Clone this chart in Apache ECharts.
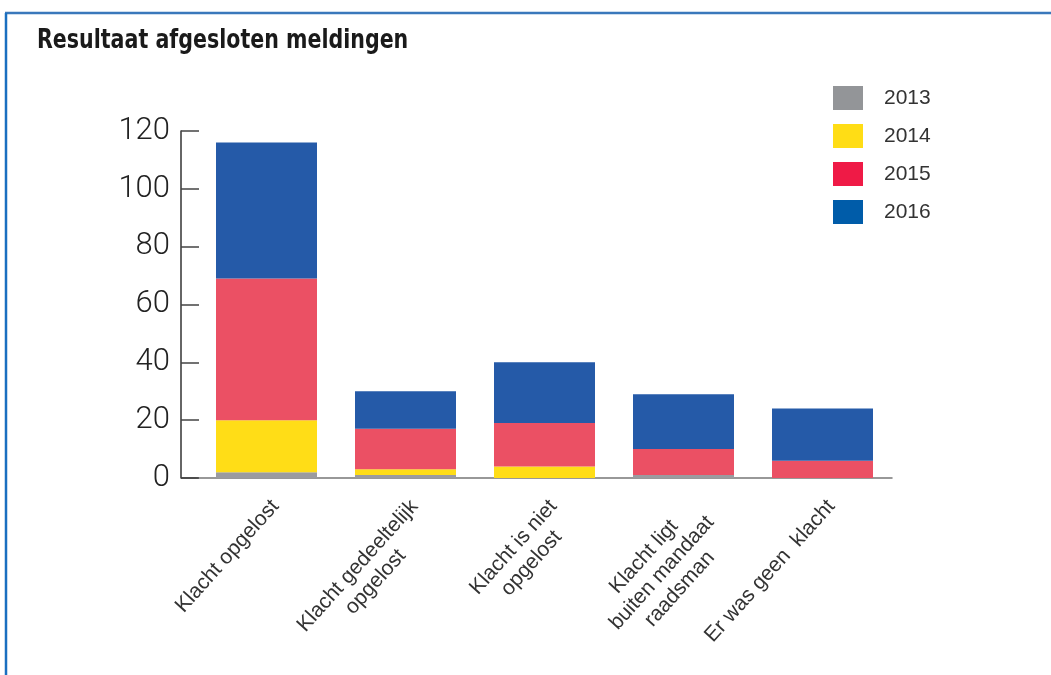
<!DOCTYPE html>
<html>
<head>
<meta charset="utf-8">
<script src="https://cdn.jsdelivr.net/npm/echarts@6/dist/echarts.min.js"></script>
<style>
  html, body { margin: 0; padding: 0; background: #ffffff; }
  #main { width: 1051px; height: 675px; }
</style>
</head>
<body>
<div id="main"></div>
<script>
  // categories en waarden per jaar
  var categories = ['Klacht opgelost', 'Klacht gedeeltelijk\nopgelost', 'Klacht is niet\nopgelost', 'Klacht ligt\nbuiten mandaat\nraadsman', 'Er was geen  klacht'];
  var years = ['2013', '2014', '2015', '2016'];
  var v2013 = [2, 1, 0, 1, 0];
  var v2014 = [18, 2, 4, 0, 0];
  var v2015 = [49, 14, 15, 9, 6];
  var v2016 = [47, 13, 21, 19, 18];
  var barColors = ['#9b9b9f', '#ffdd17', '#eb5064', '#255aa8'];
  var legendColors = ['#939598', '#ffdd15', '#ef1a46', '#005ca9'];

  var values = [v2013, v2014, v2015, v2016];
  var myChart = echarts.init(document.getElementById('main'));

  var series = years.map(function (y, i) {
    return {
      name: y,
      type: 'bar',
      stack: 'totaal',
      barWidth: 101,
      itemStyle: {color: barColors[i]},
      data: values[i]
    };
  });

  var labelFont = '"Liberation Sans", sans-serif';

  var option = {
    backgroundColor: '#ffffff',
    animation: false,
    legend: {
      orient: 'vertical',
      left: 828,
      top: 81,
      itemWidth: 30,
      itemHeight: 24,
      itemGap: 14,
      icon: 'rect',
      selectedMode: false,
      textStyle: {
        fontFamily: labelFont,
        fontSize: 21,
        color: '#333',
        padding: [0, 0, 0, 16]
      },
      data: years.map(function (y, i) {
        return {name: y, itemStyle: {color: legendColors[i]}};
      })
    },
    grid: {
      left: 197,
      right: 159,
      top: 131,
      bottom: 197,
      containLabel: false
    },
    xAxis: {
      type: 'category',
      data: categories,
      axisLine: {lineStyle: {color: '#777', width: 1.5}},
      axisTick: {inside: true, length: 10, lineStyle: {color: '#555', width: 1.5}},
      axisLabel: {
        rotate: 48,
        margin: 17,
        interval: 0,
        align: 'right',
        verticalAlign: 'top',
        fontFamily: labelFont,
        fontSize: 21,
        color: '#333',
        lineHeight: 24,
        formatter: function (val) {
          return val.split('\n').map(function (l) { return '{c|' + l + '}'; }).join('\n');
        },
        rich: {
          c: {align: 'center', fontSize: 21, color: '#333', fontFamily: labelFont, lineHeight: 24}
        }
      }
    },
    yAxis: {
      type: 'value',
      min: 0,
      max: 120,
      interval: 20,
      offset: 16,
      axisLine: {show: true, lineStyle: {color: '#333', width: 1.5}},
      axisTick: {show: true, inside: true, length: 18, lineStyle: {color: '#444', width: 1.5}},
      splitLine: {show: false},
      axisLabel: {
        margin: 11,
        fontFamily: 'Roboto, "Liberation Sans", sans-serif',
        fontWeight: 300,
        fontSize: 31,
        color: '#222'
      }
    },
    graphic: [
      {type: 'line', shape: {x1: 5, y1: 13, x2: 1051, y2: 13}, style: {stroke: '#3a78bb', lineWidth: 2.5}},
      {type: 'line', shape: {x1: 6, y1: 13, x2: 6, y2: 675}, style: {stroke: '#1a6fc0', lineWidth: 2.5}},
      {type: 'line', shape: {x1: 181, y1: 478, x2: 198, y2: 478}, style: {stroke: '#333', lineWidth: 1.5}},
      {
        type: 'text',
        x: 37,
        y: 28,
        scaleX: 0.88,
        style: {
          text: 'Resultaat afgesloten meldingen',
          font: 'bold 26px "Liberation Sans Narrow", "DejaVu Sans Condensed", sans-serif',
          fill: '#1a1a1a'
        }
      }
    ],
    series: series
  };

  myChart.setOption(option);
  window.addEventListener('resize', function () {
    myChart.resize();
  });
</script>
</body>
</html>
